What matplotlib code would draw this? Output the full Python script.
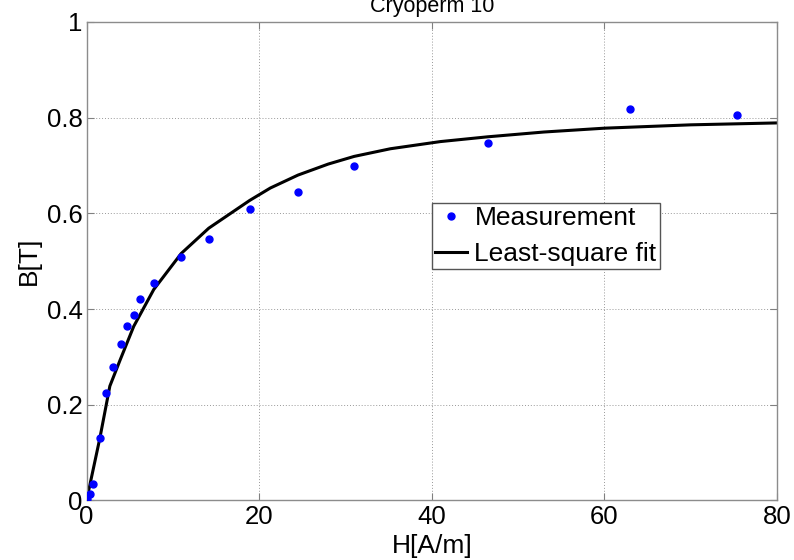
import numpy as np
import matplotlib
matplotlib.use("Agg")
import matplotlib.pyplot as plt

plt.rcParams['font.family'] = ['Liberation Sans', 'DejaVu Sans']

# measured B-H points (Cryoperm 10)
H_meas = [0.08, 0.38, 0.78, 1.54, 2.31, 3.09, 3.94, 4.71, 5.47, 6.25, 7.79,
          10.96, 14.16, 18.9, 24.5, 31.0, 46.5, 63.0, 75.4]
B_meas = [0.003, 0.013, 0.035, 0.131, 0.225, 0.279, 0.326, 0.364, 0.388, 0.422, 0.454,
          0.508, 0.547, 0.610, 0.644, 0.699, 0.748, 0.818, 0.806]

# least-square fit curve
H_fit = [0, 1.54, 2.7, 3.9, 5.47, 7.79, 10.96, 14.16, 18.9, 21.3, 24.5,
         28.0, 31.0, 35.2, 41.0, 46.5, 53.0, 60, 70, 80]
B_fit = [0, 0.13, 0.239, 0.294, 0.364, 0.441, 0.516, 0.569, 0.627, 0.653, 0.680,
         0.703, 0.719, 0.735, 0.750, 0.760, 0.770, 0.778, 0.785, 0.789]

xticks = [0, 20, 40, 60, 80]
yticks = [0, 0.2, 0.4, 0.6, 0.8, 1]
yticklabels = ['0', '0.2', '0.4', '0.6', '0.8', '1']

fig = plt.figure(figsize=(7.94, 5.6), dpi=100)
ax = fig.add_axes([0.109, 0.1063, 0.8696, 0.8545])

ax.plot(H_meas, B_meas, 'o', color='#0000ff', markersize=5, label='Measurement', zorder=3)
ax.plot(H_fit, B_fit, '-', color='black', linewidth=2.2, label='Least-square fit', zorder=2)

ax.set_xlim(0, 80)
ax.set_ylim(0, 1)
ax.set_xticks(xticks)
ax.set_yticks(yticks)
ax.set_yticklabels(yticklabels)
ax.grid(True, linestyle=(0, (1, 2)), color='#999999', linewidth=0.7)
ax.tick_params(direction='in', top=True, right=True, length=5, width=0.8,
               color='#808080', labelsize=18.5, pad=3)
for s in ax.spines.values():
    s.set_color('#8c8c8c')
    s.set_linewidth(1.0)

ax.set_xlabel('H[A/m]', fontsize=19, labelpad=4)
ax.set_ylabel('B[T]', fontsize=19, labelpad=4)
ax.set_title('Cryoperm 10', fontsize=15.5, pad=7)

leg = ax.legend(loc='upper left', bbox_to_anchor=(0.5437, 0.637),
                bbox_transform=fig.transFigure, fontsize=19, frameon=True,
                fancybox=False, framealpha=1, edgecolor='#555555',
                borderpad=0.12, handlelength=1.2, handletextpad=0.3,
                labelspacing=0.45, borderaxespad=0)
leg.get_frame().set_linewidth(1.0)

fig.savefig('out.png', dpi=100)
